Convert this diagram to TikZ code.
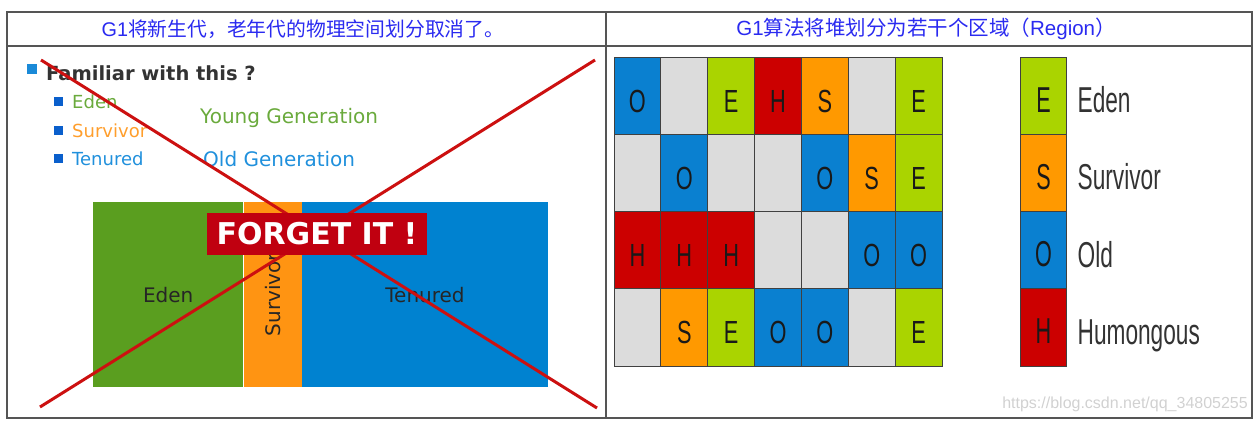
\documentclass[tikz,border=0pt]{standalone}
\usepackage{fontspec}
\usepackage{graphicx}
\setmainfont{DejaVu Sans}
\newfontfamily\cjk{Noto Sans CJK SC}
\newfontfamily\arial{Liberation Sans}
\usetikzlibrary{positioning}
\definecolor{hdrblue}{HTML}{2A2AF0}
\definecolor{tblgray}{HTML}{555555}
\definecolor{edengreen}{HTML}{5A9E1F}
\definecolor{survorange}{HTML}{FF9412}
\definecolor{tenblue}{HTML}{0082D0}
\definecolor{txtgreen}{HTML}{6AAA3C}
\definecolor{txtorange}{HTML}{FF9E2C}
\definecolor{txtblue}{HTML}{2090DC}
\definecolor{bulblue}{HTML}{0A5FCC}
\definecolor{bigbul}{HTML}{1A8AD8}
\definecolor{crossred}{HTML}{CC1010}
\definecolor{bannerred}{HTML}{C00010}
\definecolor{regO}{HTML}{0A80D0}
\definecolor{regE}{HTML}{AAD400}
\definecolor{regH}{HTML}{CC0000}
\definecolor{regS}{HTML}{FF9900}
\definecolor{regN}{HTML}{DCDCDC}
\newcommand{\narrow}[1]{\scalebox{0.63}[1]{#1}}
\tikzset{
  tableline/.style={tblgray, line width=1.3pt},
  hdr/.style={text=hdrblue, font=\fontsize{19.8}{23}\selectfont},
  bigbullet/.style={fill=bigbul, minimum size=10pt, inner sep=0pt},
  smallbullet/.style={fill=bulblue, minimum size=9pt, inner sep=0pt},
  item/.style={anchor=base west, inner sep=0pt, font=\fontsize{18}{21}\selectfont},
  gen/.style={anchor=base west, inner sep=0pt, font=\fontsize{20}{23}\selectfont},
  area/.style={anchor=north west, minimum height=185pt, inner sep=0pt,
    font=\fontsize{20}{23}\selectfont, text=black!85},
  cross/.style={crossred, line width=3pt},
  banner/.style={fill=bannerred, text=white, minimum width=220pt, minimum height=42pt,
    inner sep=0pt, font=\bfseries\fontsize{30}{34}\selectfont},
  cell/.style={draw=black!75, line width=1pt, minimum width=46.86pt, minimum height=77.25pt,
    inner sep=0pt, text height=33pt, text depth=0pt, text=black!90,
    font=\arial\fontsize{32}{36}\selectfont},
  cellO/.style={cell, fill=regO},
  cellE/.style={cell, fill=regE},
  cellH/.style={cell, fill=regH},
  cellS/.style={cell, fill=regS},
  cellN/.style={cell, fill=regN},
  legbox/.style={cell, font=\arial\fontsize{36}{40}\selectfont},
  legtxt/.style={anchor=base west, inner sep=0pt, text=black!80,
    font=\arial\fontsize{36}{40}\selectfont},
}
\begin{document}
\begin{tikzpicture}[x=1pt, y=-1pt]
  \useasboundingbox (0,0) rectangle (1259,426);
  % table
  \draw[tableline] (7,12) rectangle (1252,418);
  \draw[tableline] (7,46) -- (1252,46);
  \draw[tableline] (606,12) -- (606,418);
  \node[hdr] (hleft) at (303,29) {{\arial G1}{\cjk 将新生代，老年代的物理空间划分取消了。}};
  \node[hdr, font=\fontsize{20.5}{24}\selectfont] (hright) at (926,29) {{\arial G1}{\cjk 算法将堆划分为若干个区域（}{\arial Region}{\cjk ）}};

  % left: old layout
  \node[bigbullet] (b0) at (32,69) {};
  \node[item, font=\bfseries\fontsize{19.5}{23}\selectfont, text=black!80] (fam) at (46,80) {Familiar with this ?};
  \node[smallbullet] (b1) at (58.5,101) {};
  \node[smallbullet] (b2) at (58.5,130) {};
  \node[smallbullet] (b3) at (58.5,158) {};
  \node[item, text=txtgreen] (ieden) at (72,108) {Eden};
  \node[item, text=txtorange] (isurv) at (72,137) {Survivor};
  \node[item, text=txtblue] (iten) at (72,165) {Tenured};
  \node[gen, text=txtgreen] (young) at (200,123) {Young Generation};
  \node[gen, text=txtblue] (old) at (203,166) {Old Generation};

  \node[area, fill=edengreen, minimum width=150pt] (eden) at (93,202) {Eden};
  \node[area, fill=survorange, minimum width=58pt] (surv) at (eden.north east) {\rotatebox{90}{Survivor}};
  \node[area, fill=tenblue, minimum width=246pt] (ten) at (surv.north east) {Tenured};

  \coordinate (xa1) at (41,60);
  \coordinate (xa2) at (597,408);
  \coordinate (xb1) at (40,407);
  \coordinate (xb2) at (595,60);
  \draw[cross] (xa1) -- (xa2);
  \draw[cross] (xb1) -- (xb2);
  \node[banner] (forget) at (317,234) {FORGET IT !};

  % right: regions
  \foreach \r/\cells in {0/{O,N,E,H,S,N,E},1/{N,O,N,N,O,S,E},2/{H,H,H,N,N,O,O},3/{N,S,E,O,O,N,E}} {
    \foreach \t [count=\c from 0] in \cells {
      \node[cell\t] (g\r\c) at ({614+(\c+0.5)*46.86},{57+(\r+0.5)*77.25}) {\if N\t\else\scalebox{0.68}[1]{\t}\fi};
    }
  }

  % legend
  \foreach \t/\name [count=\i from 0] in {E/Eden,S/Survivor,O/Old,H/Humongous} {
    \node[legbox, fill=reg\t] (leg\t) at (1043.5,{57+(\i+0.5)*77.25}) {\scalebox{0.6}[1]{\t}};
    \node[legtxt] (lab\t) at ([xshift=10pt, yshift=-17pt]leg\t.east) {\narrow{\name}};
  }
  \node[anchor=east, inner sep=0pt, text=black!18, font=\arial\fontsize{16}{18}\selectfont] (wm) at (1248,404) {https://blog.csdn.net/qq\_34805255};
\end{tikzpicture}
\end{document}
